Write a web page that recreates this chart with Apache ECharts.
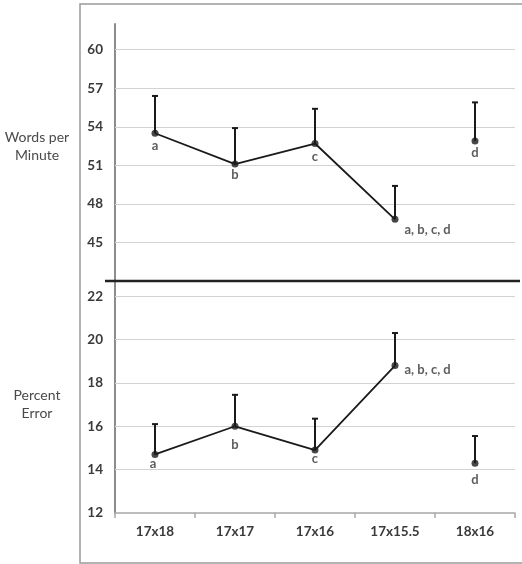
<!DOCTYPE html>
<html>
<head>
<meta charset="utf-8">
<script src="https://cdn.jsdelivr.net/npm/echarts@6/dist/echarts.min.js"></script>
<style>html,body{margin:0;padding:0;background:#fff}#c{width:522px;height:564px}</style>
</head>
<body>
<div id="c"></div>
<script>
const categories = ['17x18', '17x17', '17x16', '17x15.5', '18x16'];
// Words per minute
const wpmMean = [53.5, 51.1, 52.7, 46.8, 52.9];
const wpmUpper = [56.4, 53.9, 55.4, 49.4, 55.9];
const wpmLetters = ['a', 'b', 'c', 'a, b, c, d', 'd'];
const wpmTicks = [45, 48, 51, 54, 57, 60];
// Percent error
const errMean = [14.7, 16.0, 14.9, 18.8, 14.3];
const errUpper = [16.1, 17.45, 16.35, 20.3, 15.55];
const errLetters = ['a', 'b', 'c', 'a, b, c, d', 'd'];
const errTicks = [12, 14, 16, 18, 20, 22];
// which points are joined by the line (last one stands alone)
const connected = [true, true, true, true, false];

const FONT = 'Lato, "Open Sans", sans-serif';
const INK = '#1a1a1a';

function errorBarSeries(gridIdx, mean, upper) {
  return {
    type: 'custom',
    xAxisIndex: gridIdx, yAxisIndex: gridIdx,
    silent: true, z: 3,
    data: mean.map((m, i) => [i, m, upper[i]]),
    renderItem: function (params, api) {
      const p1 = api.coord([api.value(0), api.value(1)]);
      const p2 = api.coord([api.value(0), api.value(2)]);
      const st = { stroke: INK, lineWidth: 2 };
      return {
        type: 'group',
        children: [
          { type: 'line', shape: { x1: p1[0], y1: p1[1], x2: p2[0], y2: p2[1] }, style: st },
          { type: 'line', shape: { x1: p2[0] - 3, y1: p2[1], x2: p2[0] + 3, y2: p2[1] }, style: st }
        ]
      };
    }
  };
}

function lineSeries(gridIdx, mean, ticks) {
  return {
    type: 'line',
    xAxisIndex: gridIdx, yAxisIndex: gridIdx,
    data: mean.map((m, i) => connected[i] ? m : '-'),
    showSymbol: false, symbol: 'none',
    connectNulls: false, silent: true, z: 4,
    lineStyle: { color: INK, width: 1.8 },
    markLine: {
      silent: true, symbol: ['none', 'none'], label: { show: false },
      lineStyle: { color: '#d2d2d2', width: 1, type: 'solid' },
      z: 1,
      data: ticks.map(v => ({ yAxis: v }))
    }
  };
}

function pointSeries(gridIdx, mean, letters, labelStyles) {
  return {
    type: 'scatter',
    xAxisIndex: gridIdx, yAxisIndex: gridIdx,
    symbolSize: 7, silent: true, z: 5,
    itemStyle: { color: INK },
    data: mean.map((m, i) => ({
      value: [i, m],
      label: Object.assign({
        show: true, formatter: letters[i],
        color: '#333', fontWeight: 'bold', fontSize: 13, fontFamily: FONT
      }, labelStyles[i])
    }))
  };
}

const wpmLabelStyle = [
  { position: 'bottom', distance: 3 },
  { position: 'bottom', distance: 1 },
  { position: 'bottom', distance: 3 },
  { position: 'right', distance: 6, offset: [0, 10] },
  { position: 'bottom', distance: 2 }
];
const errLabelStyle = [
  { position: 'bottom', distance: -1, offset: [-2, 0] },
  { position: 'bottom', distance: 9 },
  { position: 'bottom', distance: -1 },
  { position: 'right', distance: 6, offset: [0, 4] },
  { position: 'bottom', distance: 7 }
];

const yAxisBase = {
  type: 'value',
  axisLine: { show: true, lineStyle: { color: '#8c8c8c', width: 2 } },
  axisTick: { show: false },
  splitLine: { show: false },
  axisLabel: { color: '#3a3a3a', fontWeight: 'bold', fontSize: 13.5, fontFamily: FONT, margin: 12 }
};

const chart = echarts.init(document.getElementById('c'));
chart.setOption({
  animation: false,
  backgroundColor: '#fff',
  grid: [
    { left: 115, top: 24, width: 400, height: 257 },
    { left: 115, top: 281, width: 400, height: 232 }
  ],
  xAxis: [
    { type: 'category', gridIndex: 0, data: categories, boundaryGap: true,
      axisLine: { show: false }, axisTick: { show: false }, axisLabel: { show: false }, splitLine: { show: false } },
    { type: 'category', gridIndex: 1, data: categories, boundaryGap: true,
      axisLine: { show: true, lineStyle: { color: '#a8a8a8', width: 1.5 } },
      axisTick: { show: true, length: 5, lineStyle: { color: '#a8a8a8', width: 1.5 } },
      axisLabel: { color: '#3a3a3a', fontWeight: 'bold', fontSize: 13.5, fontFamily: FONT, margin: 12 },
      splitLine: { show: false } }
  ],
  yAxis: [
    Object.assign({}, yAxisBase, {
      gridIndex: 0, min: 42, max: 62, interval: 3,
      axisLabel: Object.assign({}, yAxisBase.axisLabel, {
        formatter: v => wpmTicks.includes(v) ? String(v) : ''
      })
    }),
    Object.assign({}, yAxisBase, {
      gridIndex: 1, min: 12, max: 22.7, interval: 2,
      axisLabel: Object.assign({}, yAxisBase.axisLabel, {
        formatter: v => errTicks.includes(v) ? String(v) : ''
      })
    })
  ],
  series: [
    lineSeries(0, wpmMean, wpmTicks),
    errorBarSeries(0, wpmMean, wpmUpper),
    pointSeries(0, wpmMean, wpmLetters, wpmLabelStyle),
    lineSeries(1, errMean, errTicks.filter(v => v !== 12)),
    errorBarSeries(1, errMean, errUpper),
    pointSeries(1, errMean, errLetters, errLabelStyle)
  ],
  graphic: [
    { type: 'rect', z: 0, silent: true,
      shape: { x: 80, y: 4, width: 470, height: 559 },
      style: { fill: 'none', stroke: '#9a9a9a', lineWidth: 1.5 } },
    { type: 'line', z: 10, silent: true,
      shape: { x1: 105, y1: 281, x2: 520, y2: 281 },
      style: { stroke: '#222', lineWidth: 2.5 } },
    { type: 'text', silent: true, x: 37, y: 146,
      style: { text: 'Words per\nMinute', align: 'center', verticalAlign: 'middle',
        font: '14px ' + FONT, fill: '#4a4a4a', lineHeight: 18 } },
    { type: 'text', silent: true, x: 37, y: 404,
      style: { text: 'Percent\nError', align: 'center', verticalAlign: 'middle',
        font: '14px ' + FONT, fill: '#4a4a4a', lineHeight: 18 } }
  ]
});
</script>
</body>
</html>
